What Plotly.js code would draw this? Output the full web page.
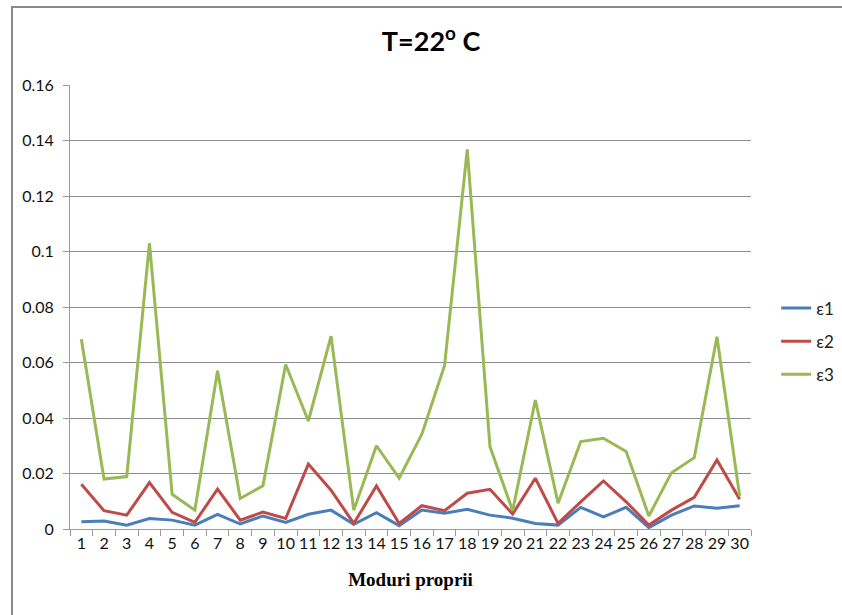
<!DOCTYPE html>
<html>
<head>
<meta charset="utf-8">
<script src="https://cdn.plot.ly/plotly-3.0.1.min.js"></script>
<style>
html,body{margin:0;padding:0;background:#fff;overflow:hidden;width:842px;height:615px;}
#frame{position:absolute;left:11px;top:6px;width:831px;height:609px;border-left:2px solid #8a8a8a;border-top:2px solid #8a8a8a;box-sizing:border-box;}
#chart{position:absolute;left:0;top:0;width:842px;height:615px;}
</style>
</head>
<body>
<div id="frame"></div>
<div id="chart"></div>
<script>
const modes = ["1","2","3","4","5","6","7","8","9","10","11","12","13","14","15","16","17","18","19","20","21","22","23","24","25","26","27","28","29","30"];
const eps1 = [0.0026,0.0029,0.0014,0.0038,0.0032,0.0014,0.0053,0.0018,0.0047,0.0024,0.0053,0.0068,0.0017,0.0059,0.0012,0.0068,0.0057,0.0071,0.0050,0.0039,0.0020,0.0014,0.0078,0.0044,0.0078,0.0005,0.0050,0.0083,0.0075,0.0084];
const eps2 = [0.0161,0.0066,0.0050,0.0167,0.0060,0.0024,0.0144,0.0032,0.0061,0.0038,0.0234,0.0140,0.0020,0.0155,0.0020,0.0084,0.0066,0.0129,0.0143,0.0054,0.0183,0.0020,0.0098,0.0173,0.0098,0.0014,0.0068,0.0114,0.0249,0.0107];
const eps3 = [0.0684,0.0180,0.0189,0.1030,0.0125,0.0068,0.0570,0.0110,0.0156,0.0593,0.0389,0.0695,0.0068,0.0300,0.0183,0.0342,0.0589,0.1368,0.0297,0.0066,0.0465,0.0093,0.0315,0.0327,0.0279,0.0047,0.0203,0.0257,0.0693,0.0119];
const seriesNames = ["ε1","ε2","ε3"];
const colors = ["#4A7EBB","#BE4B48","#98B954"];

const data = [eps1, eps2, eps3].map((v, i) => ({
  x: modes, y: v, type: "scatter", mode: "lines", name: seriesNames[i],
  legendgroup: "g" + i,
  line: {color: colors[i], width: 3}
}));

const layout = {
  width: 842, height: 615,
  margin: {l: 70, r: 91, t: 85, b: 86, autoexpand: false},
  paper_bgcolor: "rgba(0,0,0,0)",
  plot_bgcolor: "rgba(0,0,0,0)",
  font: {family: "Lato, 'Open Sans', sans-serif", size: 15, color: "#111"},
  title: {text: "<b>T=22<sup>o</sup> C</b>", x: 0.512, xref: "container", y: 0.932, yref: "container", xanchor: "center", yanchor: "middle",
          font: {family: "Lato, sans-serif", size: 27, color: "#000"}},
  xaxis: {
    type: "category", range: [-0.5, 29.5], tickson: "boundaries", ticks: "outside", ticklen: 6, tickcolor: "#9a9a9a",
    tickangle: 0,
    showline: true, linecolor: "#9a9a9a", linewidth: 1, showgrid: false, zeroline: false,
    tickfont: {size: 16, color: "#111"},
    title: {text: "<b>Moduri proprii</b>", standoff: 21, font: {family: "'Liberation Serif', 'Times New Roman', serif", size: 19, color: "#000"}}
  },
  yaxis: {
    range: [0, 0.16], dtick: 0.02, tickformat: "~g", ticks: "outside", ticklen: 6, tickcolor: "#9a9a9a",
    ticklabelstandoff: 6,
    showline: true, linecolor: "#9a9a9a", linewidth: 1, showgrid: true, gridcolor: "#8c8c8c", gridwidth: 1,
    zeroline: false, tickfont: {size: 16, color: "#111"}
  },
  legend: {x: 1.037, y: 0.537, xanchor: "left", yanchor: "top", font: {size: 17, color: "#222"},
           bgcolor: "rgba(0,0,0,0)", tracegroupgap: 8},
  showlegend: true
};

Plotly.newPlot("chart", data, layout, {displayModeBar: false, staticPlot: true});
</script>
</body>
</html>
